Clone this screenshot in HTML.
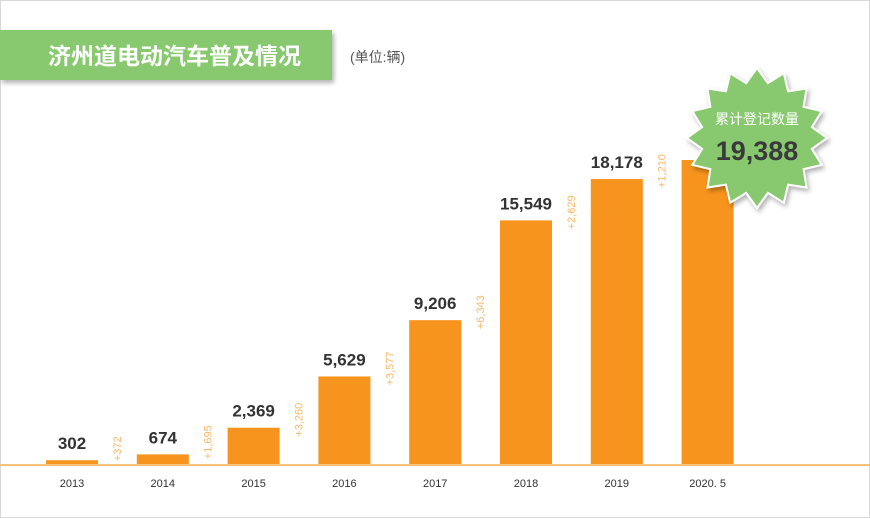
<!DOCTYPE html>
<html><head><meta charset="utf-8"><style>
body{margin:0;background:#fff}
#c{position:relative;width:870px;height:518px;overflow:hidden;font-family:"Liberation Sans","Noto Sans CJK SC",sans-serif}
</style></head><body>
<div id="c">
<svg id="s" width="870" height="518" viewBox="0 0 870 518">
<defs>
<filter id="sh" x="-20%" y="-20%" width="140%" height="160%"><feDropShadow dx="2" dy="3" stdDeviation="2.5" flood-color="#000" flood-opacity="0.3"/></filter>
</defs>
<rect x="0.5" y="0.5" width="869" height="517" fill="#fff" stroke="#d8d8d8"/>
<rect x="0" y="30" width="332" height="50" fill="#88c96f" filter="url(#sh)"/>
<text x="48" y="64" font-size="23" font-weight="bold" fill="#fff">济州道电动汽车普及情况</text>
<text x="350" y="62" font-size="14" fill="#555">(单位:辆)</text>
<g id="bars"></g>
<line x1="0" y1="465" x2="870" y2="465" stroke="#f8c27a" stroke-width="2"/>
<g id="star" filter="url(#sh)"></g>
<text x="757" y="124" font-size="14" fill="#fff" text-anchor="middle">累计登记数量</text>
<text id="badgeVal" x="757" y="160" font-size="27" font-weight="bold" fill="#3a3a3a" text-anchor="middle">19,388</text>
</svg>
</div>
<script>
const categories=["2013","2014","2015","2016","2017","2018","2019","2020. 5"];
const values=[302,674,2369,5629,9206,15549,18178,19388];
const increments=["+372","+1,695","+3,260","+3,577","+6,343","+2,629","+1,210"];
const valueLabels=["302","674","2,369","5,629","9,206","15,549","18,178",""];
const NS="http://www.w3.org/2000/svg";
const base=465, scale=305/19388, x0=46, step=90.8, bw=52;
const yS=v=>base-v*scale;
const xS=i=>x0+i*step;
const g=document.getElementById('bars');
function mk(t,a){const e=document.createElementNS(NS,t);for(const k in a)e.setAttribute(k,a[k]);return e;}
values.forEach((v,i)=>{
  const r=mk('rect',{x:xS(i),y:yS(v),width:bw,height:base-yS(v),fill:'#f7941d'});
  
  
  g.appendChild(r);
  const xl=mk('text',{x:xS(i)+bw/2,y:487,'font-size':11,fill:'#333','text-anchor':'middle'});
  xl.textContent=categories[i];
  
  
  g.appendChild(xl);
  if(valueLabels[i]){
    const vl=mk('text',{x:xS(i)+bw/2,y:yS(v)-11,'font-size':17,fill:'#333','font-weight':'bold','text-anchor':'middle'});
    vl.textContent=valueLabels[i];
    
    
    g.appendChild(vl);
  }
});
increments.forEach((t,i)=>{
  const cx=xS(i)+bw+20;
  let cy=yS(values[i])-8;
  const half=t.length*3.3;
  if(cy+half>462)cy=462-half;
  const e=mk('text',{x:cx,y:cy,'font-size':11,fill:'#f9b86a','text-anchor':'middle','dominant-baseline':'middle',transform:`rotate(-90 ${cx} ${cy})`});
  e.textContent=t;
  
  
  g.appendChild(e);
});
// star badge
const cx=757,cy=138,R=70,r=56,n=16;let pts=[];
for(let k=0;k<2*n;k++){const a=-Math.PI/2+k*Math.PI/n;const rr=k%2?r:R;pts.push((cx+rr*Math.cos(a)).toFixed(1)+','+(cy+rr*Math.sin(a)).toFixed(1));}
const st=mk('polygon',{points:pts.join(' '),fill:'#88c96f',stroke:'#fff','stroke-width':2});


document.getElementById('star').appendChild(st);
</script>
</body></html>
